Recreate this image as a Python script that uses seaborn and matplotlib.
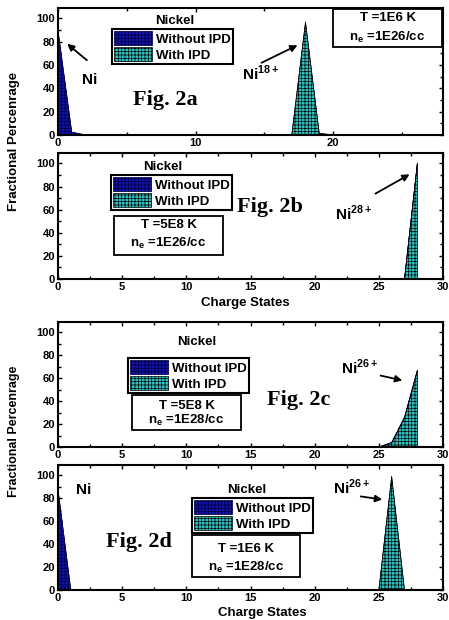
import numpy as np
import pandas as pd
import matplotlib
matplotlib.use('Agg')
import matplotlib.pyplot as plt
from matplotlib.patches import Patch, Rectangle, FancyArrowPatch
from matplotlib.ticker import MultipleLocator
import seaborn as sns

# charge-state distributions of nickel
a_without_q = [0, 1, 2]
a_without_pct = [90, 2.5, 0]
a_with_q = [17, 18, 19, 20]
a_with_pct = [0, 97, 1.5, 0]

b_without_q = [27, 28]
b_without_pct = [0, 100]
b_with_q = [27, 28]
b_with_pct = [0, 100]

c_without_q = [25, 26, 27, 28]
c_without_pct = [0, 3, 25, 66]
c_with_q = [25, 26, 27, 28]
c_with_pct = [0, 4, 26, 67]

d_without_q = [0, 1]
d_without_pct = [88, 0]
d_with_q = [25, 26, 27]
d_with_pct = [0, 99, 0]

series_labels = ['Without IPD', 'With IPD']
conditions = [('T =1E6 K', r'n$_{\mathbf{e}}$ =1E26/cc'),
              ('T =5E8 K', r'n$_{\mathbf{e}}$ =1E26/cc'),
              ('T =5E8 K', r'n$_{\mathbf{e}}$ =1E28/cc'),
              ('T =1E6 K', r'n$_{\mathbf{e}}$ =1E28/cc')]

sns.set_theme(style='ticks')
plt.rcParams['font.family'] = ['Liberation Sans', 'DejaVu Sans']
plt.rcParams['font.weight'] = 'bold'
plt.rcParams['mathtext.fontset'] = 'custom'
plt.rcParams['mathtext.rm'] = 'Liberation Sans'
plt.rcParams['mathtext.bf'] = 'Liberation Sans:bold'
plt.rcParams['hatch.linewidth'] = 0.5
for key in ['text.color', 'axes.labelcolor', 'xtick.color', 'ytick.color', 'axes.edgecolor']:
    plt.rcParams[key] = 'black'

BLUE = '#1212a6'
TEAL = '#2fc2c2'
W, H = 449, 620


def fx(px):
    return px / W


def fy(py):
    return 1 - py / H


fig = plt.figure(figsize=(4.49, 6.20), dpi=100)

# (top, bottom) in pixels
panel_rows = [(8, 135), (153, 279), (322, 447), (465, 590)]
data = [(a_without_q, a_without_pct, a_with_q, a_with_pct),
        (b_without_q, b_without_pct, b_with_q, b_with_pct),
        (c_without_q, c_without_pct, c_with_q, c_with_pct),
        (d_without_q, d_without_pct, d_with_q, d_with_pct)]

axes = []
for i, (top, bot) in enumerate(panel_rows):
    ax = fig.add_axes([fx(58), fy(bot), fx(443) - fx(58), (bot - top) / H])
    wq, wp, iq, ip = data[i]
    ax.fill_between(wq, wp, 0, facecolor=BLUE, edgecolor='#000040', hatch='+++++', linewidth=0.4)
    ax.fill_between(iq, ip, 0, facecolor=TEAL, edgecolor='black', hatch='+++++', linewidth=0.4)
    sns.lineplot(x=wq, y=wp, ax=ax, color='#000040', lw=0.5)
    sns.lineplot(x=iq, y=ip, ax=ax, color='black', lw=0.5)
    if i == 0:
        ax.set_xlim(0, 28)
        ax.xaxis.set_major_locator(MultipleLocator(10))
        ax.xaxis.set_minor_locator(MultipleLocator(5))
    else:
        ax.set_xlim(0, 30)
        ax.xaxis.set_major_locator(MultipleLocator(5))
        ax.xaxis.set_minor_locator(MultipleLocator(2.5))
    ax.set_ylim(0, 109)
    ax.yaxis.set_major_locator(MultipleLocator(20))
    ax.yaxis.set_minor_locator(MultipleLocator(10))
    ax.tick_params(which='both', direction='in', top=True, right=True, width=1, color='black',
                   labelsize=8, pad=2)
    ax.tick_params(which='major', length=3)
    ax.tick_params(which='minor', length=2)
    for lab in ax.get_xticklabels() + ax.get_yticklabels():
        lab.set_fontweight('bold')
    for sp in ax.spines.values():
        sp.set_linewidth(1.5)
        sp.set_color('black')
    ax.set_xlabel('')
    ax.set_ylabel('')
    axes.append(ax)

handles = [Patch(facecolor=BLUE, edgecolor='#000040', hatch='+++++', linewidth=0.5),
           Patch(facecolor=TEAL, edgecolor='black', hatch='+++++', linewidth=0.5)]

# legend boxes (left, top) and condition boxes (x0, y0, x1, y1) in pixels
legend_pos = [(112, 29), (111, 175), (128, 358), (192, 498)]
cond_boxes = [(333, 9, 442, 47), (114, 216, 223, 255), (132, 395, 241, 430), (192, 535, 300, 577)]
cond_text_y = [(18, 37), (225, 243), (406, 420), (549, 567)]
nickel_pos = [(175, 21), (163, 167), (197, 342), (247, 490)]

for i, ax in enumerate(axes):
    leg = ax.legend(handles, series_labels, loc='upper left',
                    bbox_to_anchor=(fx(legend_pos[i][0]), fy(legend_pos[i][1])),
                    bbox_transform=fig.transFigure, fancybox=False, framealpha=1,
                    edgecolor='black', borderpad=0.15, handlelength=2.9, handleheight=1.3,
                    handletextpad=0.3, labelspacing=0.1, borderaxespad=0,
                    prop={'size': 9.5, 'weight': 'bold'})
    leg.get_frame().set_linewidth(1.5)
    x0, y0, x1, y1 = cond_boxes[i]
    fig.patches.append(Rectangle((fx(x0), fy(y1)), fx(x1) - fx(x0), (y1 - y0) / H,
                                 transform=fig.transFigure, facecolor='white',
                                 edgecolor='black', linewidth=1.3, zorder=5))
    cx = (x0 + x1) / 2
    fig.text(fx(cx), fy(cond_text_y[i][0]), conditions[i][0], ha='center', va='center',
             fontsize=9.5, fontweight='bold', zorder=6)
    fig.text(fx(cx), fy(cond_text_y[i][1]), conditions[i][1], ha='center', va='center',
             fontsize=9.5, fontweight='bold', zorder=6)
    fig.text(fx(nickel_pos[i][0]), fy(nickel_pos[i][1]), 'Nickel', ha='center', va='center',
             fontsize=9.5, fontweight='bold')

# figure labels
fig_labels = [('Fig. 2a', 165, 100), ('Fig. 2b', 270, 207), ('Fig. 2c', 299, 400), ('Fig. 2d', 139, 542)]
for txt, x, y in fig_labels:
    fig.text(fx(x), fy(y), txt, ha='center', va='center', fontsize=16, fontweight='bold',
             family='Liberation Serif', color='black')

# ion annotations: text, text pos, arrow tail, arrow head
ions = [('Ni', (82, 80), (89, 62), (65, 42)),
        (r'Ni$^{\mathbf{18+}}$', (242, 73), (259, 64), (300, 44)),
        (r'Ni$^{\mathbf{28+}}$', (335, 213), (373, 195), (412, 173)),
        (r'Ni$^{\mathbf{26+}}$', (341, 367), (378, 375), (405, 381)),
        ('Ni', (76, 490), None, None),
        (r'Ni$^{\mathbf{26+}}$', (333, 487), (358, 496), (385, 500))]
for txt, tpos, tail, head in ions:
    fig.text(fx(tpos[0]), fy(tpos[1]), txt, ha='left', va='center', fontsize=11, fontweight='bold')
    if tail is not None:
        fig.add_artist(FancyArrowPatch(
            (fx(tail[0]), fy(tail[1])), (fx(head[0]), fy(head[1])),
            transform=fig.transFigure, arrowstyle='-|>', mutation_scale=10,
            color='black', lw=1.3))

# axis titles
fig.text(fx(14), fy(141), 'Fractional Percenrage', rotation=90, ha='center', va='center',
         fontsize=9.5, fontweight='bold')
fig.text(fx(14), fy(431), 'Fractional Percenrage', rotation=90, ha='center', va='center',
         fontsize=9, fontweight='bold')
fig.text(fx(245), fy(303), 'Charge States', ha='center', va='center', fontsize=9.5, fontweight='bold')
fig.text(fx(262), fy(613), 'Charge States', ha='center', va='center', fontsize=9.5, fontweight='bold')

fig.savefig('out.png', dpi=100, facecolor='white')
